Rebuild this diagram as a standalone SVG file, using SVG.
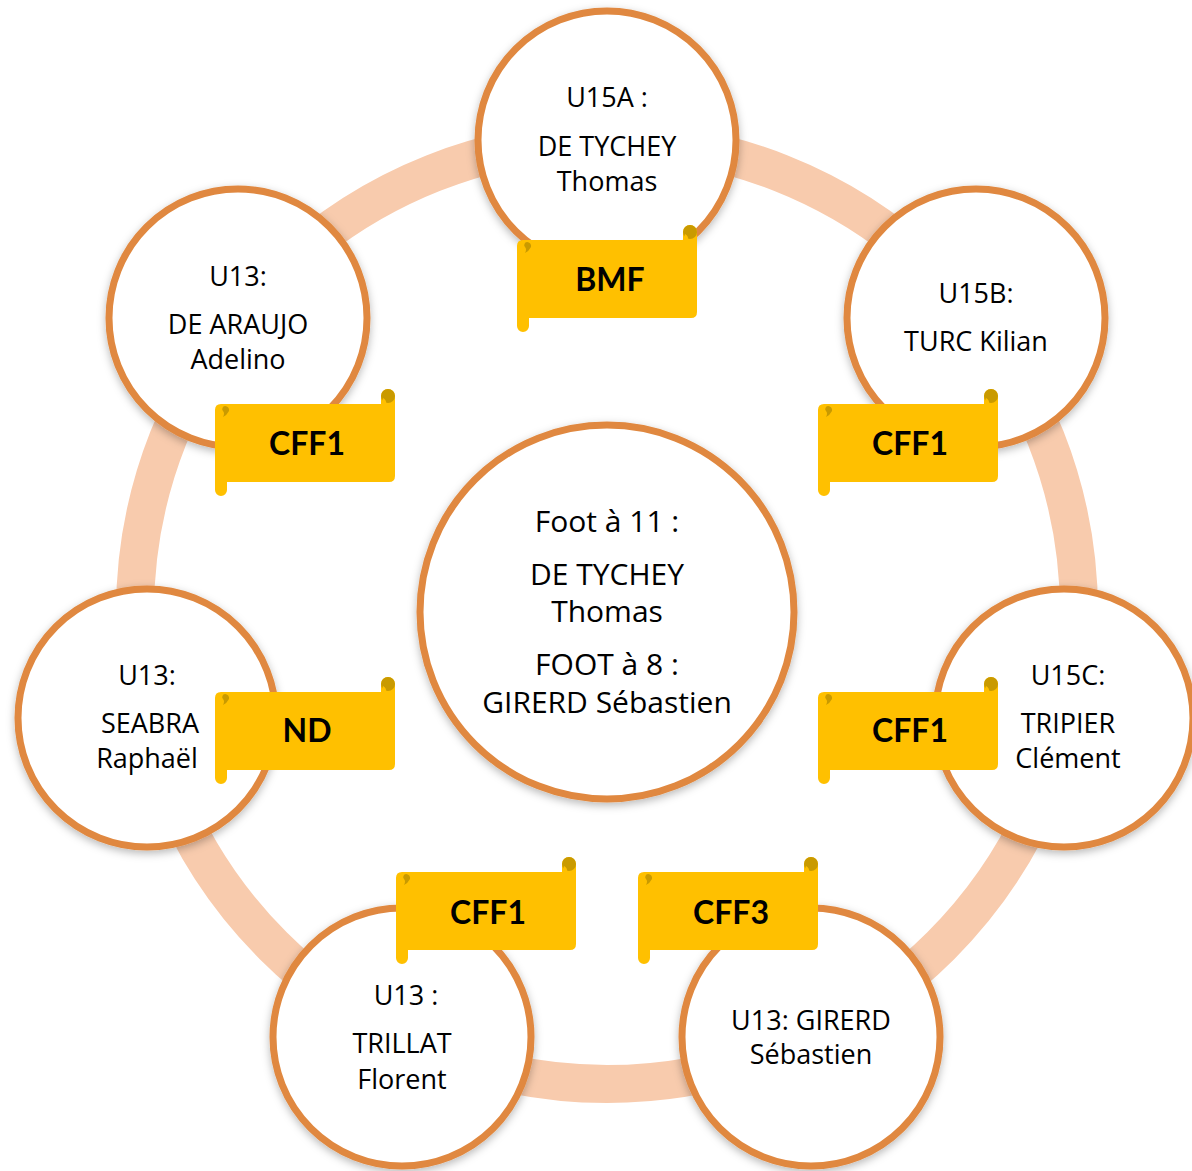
<svg xmlns="http://www.w3.org/2000/svg" xmlns:xlink="http://www.w3.org/1999/xlink" width="1192" height="1171" viewBox="0 0 1192 1171">
<defs>
<style>
.ring{fill:none;stroke:#F8CBAD;stroke-width:38}
.node{fill:#FFFFFF;stroke:#E0883F;stroke-width:7;filter:url(#sh)}
.t{font-family:"Open Sans","Noto Sans",sans-serif;font-size:27px;fill:#000;text-anchor:middle}
.tc{font-size:30px}
.b{font-family:Lato,"Open Sans",sans-serif;font-weight:bold;font-size:32px;fill:#000;text-anchor:middle}
.body{fill:#FFC000}
.dark{fill:#C99A00}
</style>
<filter id="sh" x="-20%" y="-20%" width="140%" height="140%">
<feDropShadow dx="0" dy="3" stdDeviation="4" flood-color="#000" flood-opacity="0.28"/>
</filter>
<g id="scroll">
<path class="body" d="M0,8 Q0,2 6,2 L166,2 L166,-6 A7,7 0 0 1 180,-6 L180,74 Q180,80 174,80 L12,80 L12,88 A6,6 0 0 1 0,88 Z"/>
<circle class="dark" cx="173" cy="-6" r="7"/>
<path class="body" d="M168,-4 Q172,-2 171,3 L166,3 Z"/>
<path class="dark" d="M10,4 A4,4 0 0 1 14,9 Q12,13 8,15 Q10,11 8,9 A3,3 0 0 1 10,4 Z"/>
</g>
</defs>
<rect width="1192" height="1171" fill="#FFFFFF"/>
<g id="connectors">
<circle class="ring" cx="607" cy="612" r="472"/>
</g>
<g id="center">
<circle class="node" cx="607" cy="612" r="187"/>
<text class="t tc" x="607" y="532">Foot à 11 :</text>
<text class="t tc" x="607" y="585">DE TYCHEY</text>
<text class="t tc" x="607" y="622">Thomas</text>
<text class="t tc" x="607" y="675">FOOT à 8 :</text>
<text class="t tc" x="607" y="713">GIRERD Sébastien</text>
</g>
<g id="n-u15a">
<circle class="node" cx="607" cy="140" r="129"/>
<text class="t" x="607" y="107">U15A :</text>
<text class="t" x="607" y="156">DE TYCHEY</text>
<text class="t" x="607" y="191">Thomas</text>
</g>
<g id="n-u15b">
<circle class="node" cx="976" cy="318" r="129"/>
<text class="t" x="976" y="303">U15B:</text>
<text class="t" x="976" y="351">TURC Kilian</text>
</g>
<g id="n-u15c">
<circle class="node" cx="1064" cy="718" r="129"/>
<text class="t" x="1068" y="685">U15C:</text>
<text class="t" x="1068" y="733">TRIPIER</text>
<text class="t" x="1068" y="768">Clément</text>
</g>
<g id="n-girerd">
<circle class="node" cx="811" cy="1037" r="129"/>
<text class="t" x="811" y="1030">U13: GIRERD</text>
<text class="t" x="811" y="1064">Sébastien</text>
</g>
<g id="n-trillat">
<circle class="node" cx="402" cy="1037" r="129"/>
<text class="t" x="406" y="1005">U13 :</text>
<text class="t" x="402" y="1053">TRILLAT</text>
<text class="t" x="402" y="1089">Florent</text>
</g>
<g id="n-seabra">
<circle class="node" cx="147" cy="718" r="129"/>
<text class="t" x="147" y="685">U13:</text>
<text class="t" x="150" y="733">SEABRA</text>
<text class="t" x="147" y="768">Raphaël</text>
</g>
<g id="n-araujo">
<circle class="node" cx="238" cy="318" r="129"/>
<text class="t" x="238" y="286">U13:</text>
<text class="t" x="238" y="334">DE ARAUJO</text>
<text class="t" x="238" y="369">Adelino</text>
</g>
<g id="b-bmf">
<use xlink:href="#scroll" x="517" y="238"/>
<text class="b" x="610" y="291">BMF</text>
</g>
<g id="b-araujo">
<use xlink:href="#scroll" x="215" y="402"/>
<text class="b" x="307" y="455">CFF1</text>
</g>
<g id="b-u15b">
<use xlink:href="#scroll" x="818" y="402"/>
<text class="b" x="910" y="455">CFF1</text>
</g>
<g id="b-seabra">
<use xlink:href="#scroll" x="215" y="690"/>
<text class="b" x="307" y="742">ND</text>
</g>
<g id="b-u15c">
<use xlink:href="#scroll" x="818" y="690"/>
<text class="b" x="910" y="742">CFF1</text>
</g>
<g id="b-trillat">
<use xlink:href="#scroll" x="396" y="870"/>
<text class="b" x="488" y="924">CFF1</text>
</g>
<g id="b-girerd">
<use xlink:href="#scroll" x="638" y="870"/>
<text class="b" x="731" y="924">CFF3</text>
</g>
</svg>
